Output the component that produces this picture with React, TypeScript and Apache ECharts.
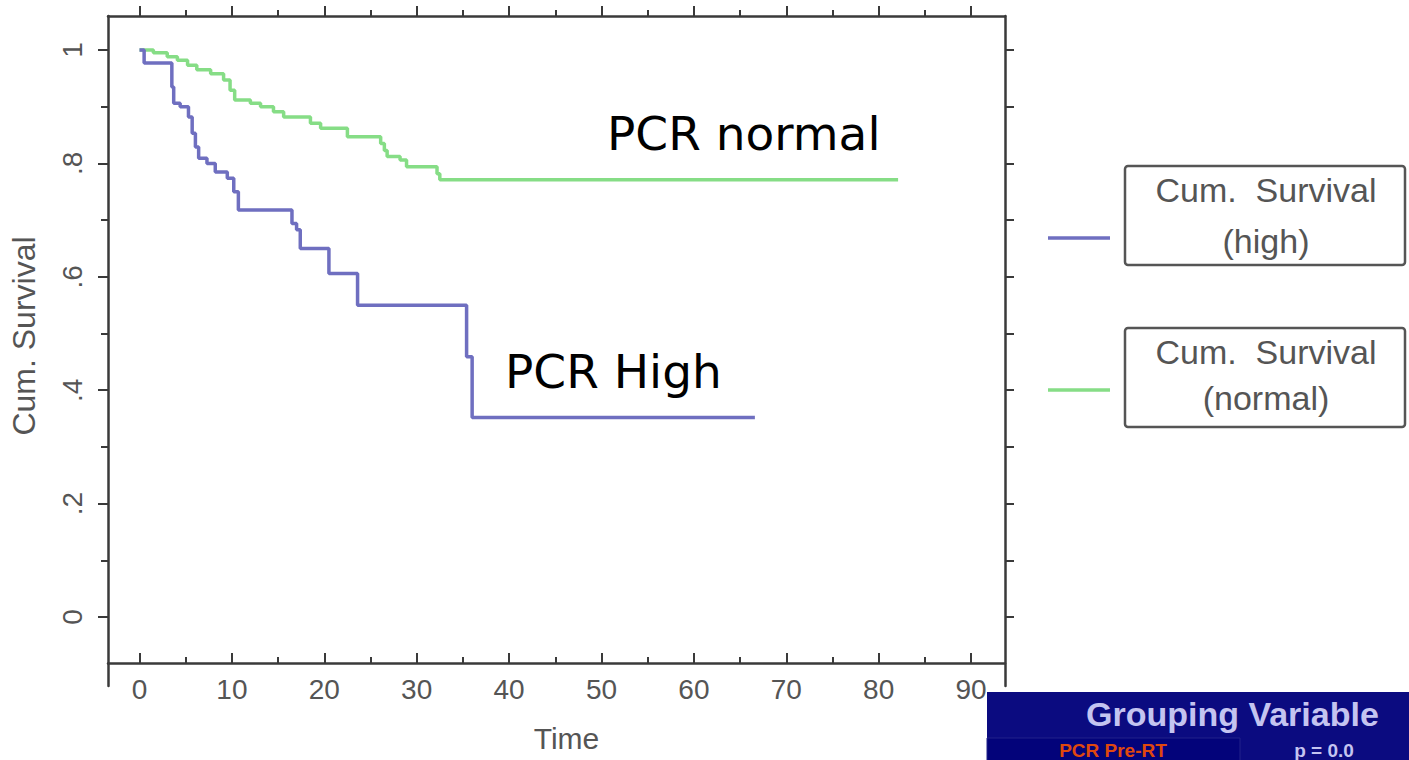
import React, { useEffect, useRef } from "react";
import * as echarts from "echarts";

// Kaplan-Meier estimates (time, cumulative survival)
const highTimes = [0, 0.5, 3.5, 3.7, 4.4, 5.3, 5.7, 6.05, 6.4, 7.3, 8.2, 9.5, 10.2, 10.7, 16.5, 17.0, 17.4, 20.5, 23.6, 35.4, 36.0, 66.6];
const highSurvival = [1.0, 0.977, 0.935, 0.906, 0.9, 0.882, 0.853, 0.829, 0.809, 0.8, 0.785, 0.774, 0.75, 0.718, 0.694, 0.683, 0.65, 0.606, 0.55, 0.459, 0.352, 0.352];

const normalTimes = [0, 1.5, 3.0, 4.1, 5.2, 6.2, 7.7, 9.1, 9.8, 10.3, 12.0, 13.1, 14.5, 15.6, 18.5, 19.6, 22.5, 26.1, 26.5, 26.8, 28.2, 28.9, 32.2, 32.5, 82.1];
const normalSurvival = [1.0, 0.995, 0.988, 0.982, 0.973, 0.965, 0.958, 0.947, 0.929, 0.912, 0.906, 0.9, 0.891, 0.882, 0.871, 0.862, 0.847, 0.835, 0.823, 0.812, 0.806, 0.794, 0.782, 0.771, 0.771];

const xMajorTicks = [0, 10, 20, 30, 40, 50, 60, 70, 80, 90];
const xMinorTicks = [5, 15, 25, 35, 45, 55, 65, 75, 85];
const yMajorTicks = [0, 0.2, 0.4, 0.6, 0.8, 1];
const yMinorTicks = [0.1, 0.3, 0.5, 0.7, 0.9];
const yRightTicks = [0, 0.1, 0.2, 0.3, 0.4, 0.5, 0.6, 0.7, 0.8, 0.9, 1];

const X_MIN = -3.41;
const X_MAX = 93.67;
const Y_MIN = -0.1216;
const Y_MAX = 1.06;

const HIGH_COLOR = "#6f6fc0";
const NORMAL_COLOR = "#86dd86";
const AXIS_COLOR = "#3a3a3a";
const LABEL_COLOR = "#555555";

const yLabel = (v: number) => {
  if (Math.abs(v) < 1e-9) return "0";
  if (Math.abs(v - 1) < 1e-9) return "1";
  return "." + Math.round(v * 10);
};

function App() {
  const ref = useRef<HTMLDivElement>(null);
  useEffect(() => {
    if (!ref.current) return;
    const chart = echarts.init(ref.current, null, { renderer: "svg" });
    const axisLineStyle = { color: AXIS_COLOR, width: 2.5 };
    const tickStyle = { color: AXIS_COLOR, width: 2 };
    const baseX = { type: "value", min: X_MIN, max: X_MAX, gridIndex: 0, splitLine: { show: false } };
    const baseY = { type: "value", min: Y_MIN, max: Y_MAX, gridIndex: 0, splitLine: { show: false } };
    const highData = highTimes.map((t, i) => [t, highSurvival[i]]);
    const normalData = normalTimes.map((t, i) => [t, normalSurvival[i]]);

    const txt = (text: string, x: number, y: number, opts: any = {}) => ({
      type: "text",
      z: 100,
      style: {
        text,
        x,
        y,
        fill: opts.fill || LABEL_COLOR,
        fontSize: opts.fontSize || 34,
        fontFamily: opts.fontFamily || "Liberation Sans, Arial, sans-serif",
        fontWeight: opts.fontWeight || "normal",
        align: opts.align || "center",
        textAlign: opts.align || "center",
        verticalAlign: opts.verticalAlign || "middle",
        textVerticalAlign: opts.verticalAlign || "middle",
      },
    });

    chart.setOption({
      animation: false,
      backgroundColor: "#ffffff",
      grid: { left: 108, right: 404, top: 16, bottom: 74, containLabel: false },
      xAxis: [
        {
          ...baseX,
          position: "bottom",
          offset: -23,
          axisLine: { show: true, onZero: false, lineStyle: axisLineStyle },
          axisTick: { show: true, inside: true, length: 10, lineStyle: tickStyle, customValues: xMajorTicks },
          axisLabel: {
            show: true,
            customValues: xMajorTicks,
            fontSize: 28,
            color: LABEL_COLOR,
            fontFamily: "Liberation Sans, Arial, sans-serif",
            margin: 12,
          },
          name: "Time",
          nameLocation: "middle",
          nameGap: 60,
          nameTextStyle: {
            fontSize: 30,
            color: LABEL_COLOR,
            fontFamily: "Liberation Sans, Arial, sans-serif",
            padding: [0, 0, 0, 20],
          },
        },
        {
          ...baseX,
          position: "bottom",
          offset: -23,
          axisLine: { show: false, onZero: false },
          axisTick: { show: true, inside: true, length: 6, lineStyle: tickStyle, customValues: xMinorTicks },
          axisLabel: { show: false },
        },
        {
          ...baseX,
          position: "top",
          axisLine: { show: true, onZero: false, lineStyle: axisLineStyle },
          axisTick: { show: true, inside: false, length: 10, lineStyle: tickStyle, customValues: xMajorTicks },
          axisLabel: { show: false },
        },
        {
          ...baseX,
          position: "top",
          axisLine: { show: false, onZero: false },
          axisTick: { show: true, inside: false, length: 6, lineStyle: tickStyle, customValues: xMinorTicks },
          axisLabel: { show: false },
        },
      ],
      yAxis: [
        {
          ...baseY,
          position: "left",
          axisLine: { show: true, onZero: false, lineStyle: axisLineStyle },
          axisTick: { show: true, inside: false, length: 10, lineStyle: tickStyle, customValues: yMajorTicks },
          axisLabel: {
            show: true,
            customValues: yMajorTicks,
            rotate: 90,
            fontSize: 28,
            color: LABEL_COLOR,
            fontFamily: "Liberation Sans, Arial, sans-serif",
            margin: 22,
            formatter: yLabel,
          },
          name: "Cum. Survival",
          nameLocation: "middle",
          nameRotate: 90,
          nameGap: 68,
          nameTextStyle: {
            fontSize: 32,
            color: LABEL_COLOR,
            fontFamily: "Liberation Sans, Arial, sans-serif",
            padding: [0, 0, 0, 30],
          },
        },
        {
          ...baseY,
          position: "left",
          axisLine: { show: false, onZero: false },
          axisTick: { show: true, inside: false, length: 7, lineStyle: tickStyle, customValues: yMinorTicks },
          axisLabel: { show: false },
        },
        {
          ...baseY,
          position: "right",
          axisLine: { show: true, onZero: false, lineStyle: axisLineStyle },
          axisTick: { show: true, inside: false, length: 9, lineStyle: tickStyle, customValues: yRightTicks },
          axisLabel: { show: false },
        },
      ],
      series: [
        {
          name: "Cum. Survival (high)",
          type: "line",
          step: "end",
          xAxisIndex: 0,
          yAxisIndex: 0,
          data: highData,
          showSymbol: false,
          symbol: "none",
          lineStyle: { color: HIGH_COLOR, width: 3.5 },
          itemStyle: { color: HIGH_COLOR },
          z: 5,
        },
        {
          name: "Cum. Survival (normal)",
          type: "line",
          step: "end",
          xAxisIndex: 0,
          yAxisIndex: 0,
          data: normalData,
          showSymbol: false,
          symbol: "none",
          lineStyle: { color: NORMAL_COLOR, width: 3.5 },
          itemStyle: { color: NORMAL_COLOR },
          z: 4,
        },
      ],
      graphic: [
        // annotations
        txt("PCR normal", 607, 133, { fill: "#000", fontSize: 47, fontFamily: "DejaVu Sans, sans-serif", align: "left" }),
        txt("PCR High", 505, 371, { fill: "#000", fontSize: 47, fontFamily: "DejaVu Sans, sans-serif", align: "left" }),
        // legend
        { type: "line", z: 100, shape: { x1: 1048, y1: 238, x2: 1110, y2: 238 }, style: { stroke: HIGH_COLOR, lineWidth: 3.5 } },
        { type: "rect", z: 100, shape: { x: 1125, y: 166, width: 280, height: 99, r: 3 }, style: { fill: "#fff", stroke: "#555", lineWidth: 2.5 } },
        txt("Cum.  Survival", 1266, 190),
        txt("(high)", 1266, 241),
        { type: "line", z: 100, shape: { x1: 1048, y1: 390, x2: 1110, y2: 390 }, style: { stroke: NORMAL_COLOR, lineWidth: 3.5 } },
        { type: "rect", z: 100, shape: { x: 1125, y: 328, width: 280, height: 99, r: 3 }, style: { fill: "#fff", stroke: "#555", lineWidth: 2.5 } },
        txt("Cum.  Survival", 1266, 352),
        txt("(normal)", 1266, 398),
        // grouping variable panel
        { type: "rect", z: 100, shape: { x: 987, y: 692, width: 430, height: 80 }, style: { fill: "#0b0b80" } },
        { type: "rect", z: 101, shape: { x: 987, y: 738, width: 253, height: 40 }, style: { fill: "#03037a", stroke: "#22228a", lineWidth: 1 } },
        { ...txt("Grouping Variable", 1086, 714, { fill: "#c4c4f0", fontSize: 34, fontWeight: "bold", align: "left" }), z: 102 },
        { ...txt("PCR Pre-RT", 1113, 750, { fill: "#e0480e", fontSize: 19, fontWeight: "bold", align: "center" }), z: 102 },
        { ...txt("p = 0.0", 1324, 750, { fill: "#c4c4f0", fontSize: 19, fontWeight: "bold", align: "center" }), z: 102 },
      ],
    });
    return () => chart.dispose();
  }, []);
  return (
    <div
      ref={ref}
      style={{ position: "absolute", left: 0, top: 0, width: 1409, height: 760, background: "#fff" }}
    />
  );
}

export default App;
